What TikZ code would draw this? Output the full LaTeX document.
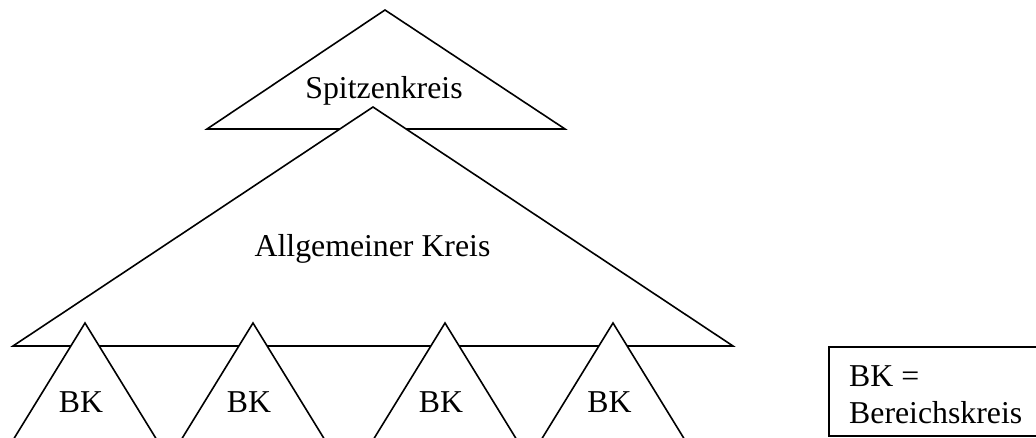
\documentclass[tikz,border=0pt]{standalone}
\usepackage{fontspec}
\setmainfont{Liberation Serif}
\begin{document}
\begin{tikzpicture}[x=1pt,y=-1pt,
  tri/.style={draw=black,line width=1.6pt,fill=white,line join=miter},
  lbl/.style={anchor=base,inner sep=0pt,font=\fontsize{31.8}{38}\selectfont}]
\useasboundingbox (0,0) rectangle (1036,438);
\clip (0,0) rectangle (1036,438);
% top triangle
\draw[tri] (385,10) -- (565,129) -- (207,129) -- cycle;
\node[lbl] (spitze) at (384,99) {Spitzenkreis};
% big triangle
\draw[tri] (373,107) -- (733,346) -- (13,346) -- cycle;
\node[lbl] (allg) at (372.5,257) {Allgemeiner Kreis};
% small triangles
\foreach \x in {85,253,445,613}{
  \draw[tri] (\x,323) -- ({\x+75},445) -- ({\x-75},445) -- cycle;
}
\node[lbl] (bka) at (81,412) {BK};
\node[lbl] (bkb) at (249,412) {BK};
\node[lbl] (bkc) at (441,412) {BK};
\node[lbl] (bkd) at (609.5,412) {BK};
% legend
\draw[tri] (829,347) rectangle (1050,436);
\node[lbl,anchor=base west] (leg1) at (849,386) {BK =};
\node[lbl,anchor=base west] (leg2) at (849,423) {Bereichskreis};
\end{tikzpicture}
\end{document}
